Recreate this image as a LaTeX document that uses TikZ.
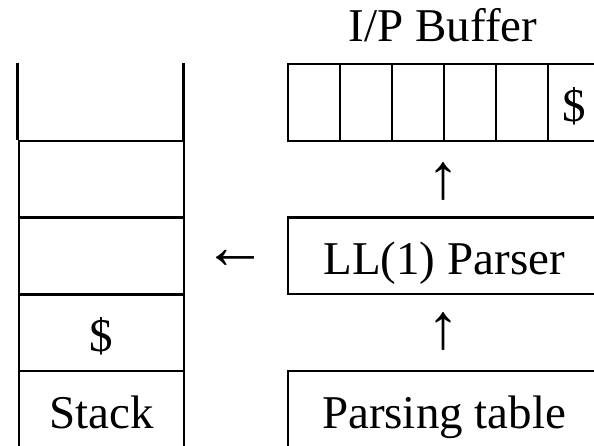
\documentclass[tikz,border=0pt]{standalone}
\usepackage{fontspec}
\setmainfont{Liberation Serif}
\begin{document}
\begin{tikzpicture}[x=1pt,y=-1pt,
  every node/.style={font=\fontsize{47}{52}\selectfont, inner sep=0pt},
  lw/.style={line width=2.2pt},
  cellbase/.style={anchor=north west, text height=37pt, text depth=0pt},
  bufcell/.style={cellbase, draw, lw, minimum width=52pt, minimum height=77pt},
  stkcell/.style={cellbase, minimum width=165.5pt, minimum height=77pt},
  wide/.style={cellbase, draw, lw, minimum width=312pt, minimum height=77pt},
  sym/.style={anchor=center, font=\fontsize{64}{70}\selectfont}]
\useasboundingbox (0,0) rectangle (594,446);
\clip (0,0) rectangle (594,446);
% stack
\node[stkcell] (s1) at (17.5,63) {};
\node[stkcell, draw, lw] (s2) at (17.5,140) {};
\node[stkcell, draw, lw] (s3) at (17.5,216.5) {};
\node[stkcell, draw, lw] (s4) at (17.5,293) {\$};
\node[stkcell, draw, lw] (s5) at (17.5,370) {Stack};
\draw[lw] (s1.north west) -- (s1.south west);
\draw[lw] (s1.north east) -- (s1.south east);
% input buffer
\node[anchor=base] (title) at (443,41.7) {I/P Buffer};
\node[bufcell] (b1) at (287,63) {};
\node[bufcell] (b2) at (339,63) {};
\node[bufcell] (b3) at (391,63) {};
\node[bufcell] (b4) at (443,63) {};
\node[bufcell] (b5) at (495,63) {};
\node[bufcell] (b6) at (547,63) {\$};
% parser and table
\node[wide, minimum height=76.5pt] (parser) at (287,216.5) {LL(1) Parser};
\node[wide] (table) at (287,370) {Parsing table};
% arrows as glyphs
\node[sym] (up1) at (443,181) {↑};
\node[sym] (up2) at (443,331) {↑};
\node[sym] (left) at (235,259) {←};
\end{tikzpicture}
\end{document}
